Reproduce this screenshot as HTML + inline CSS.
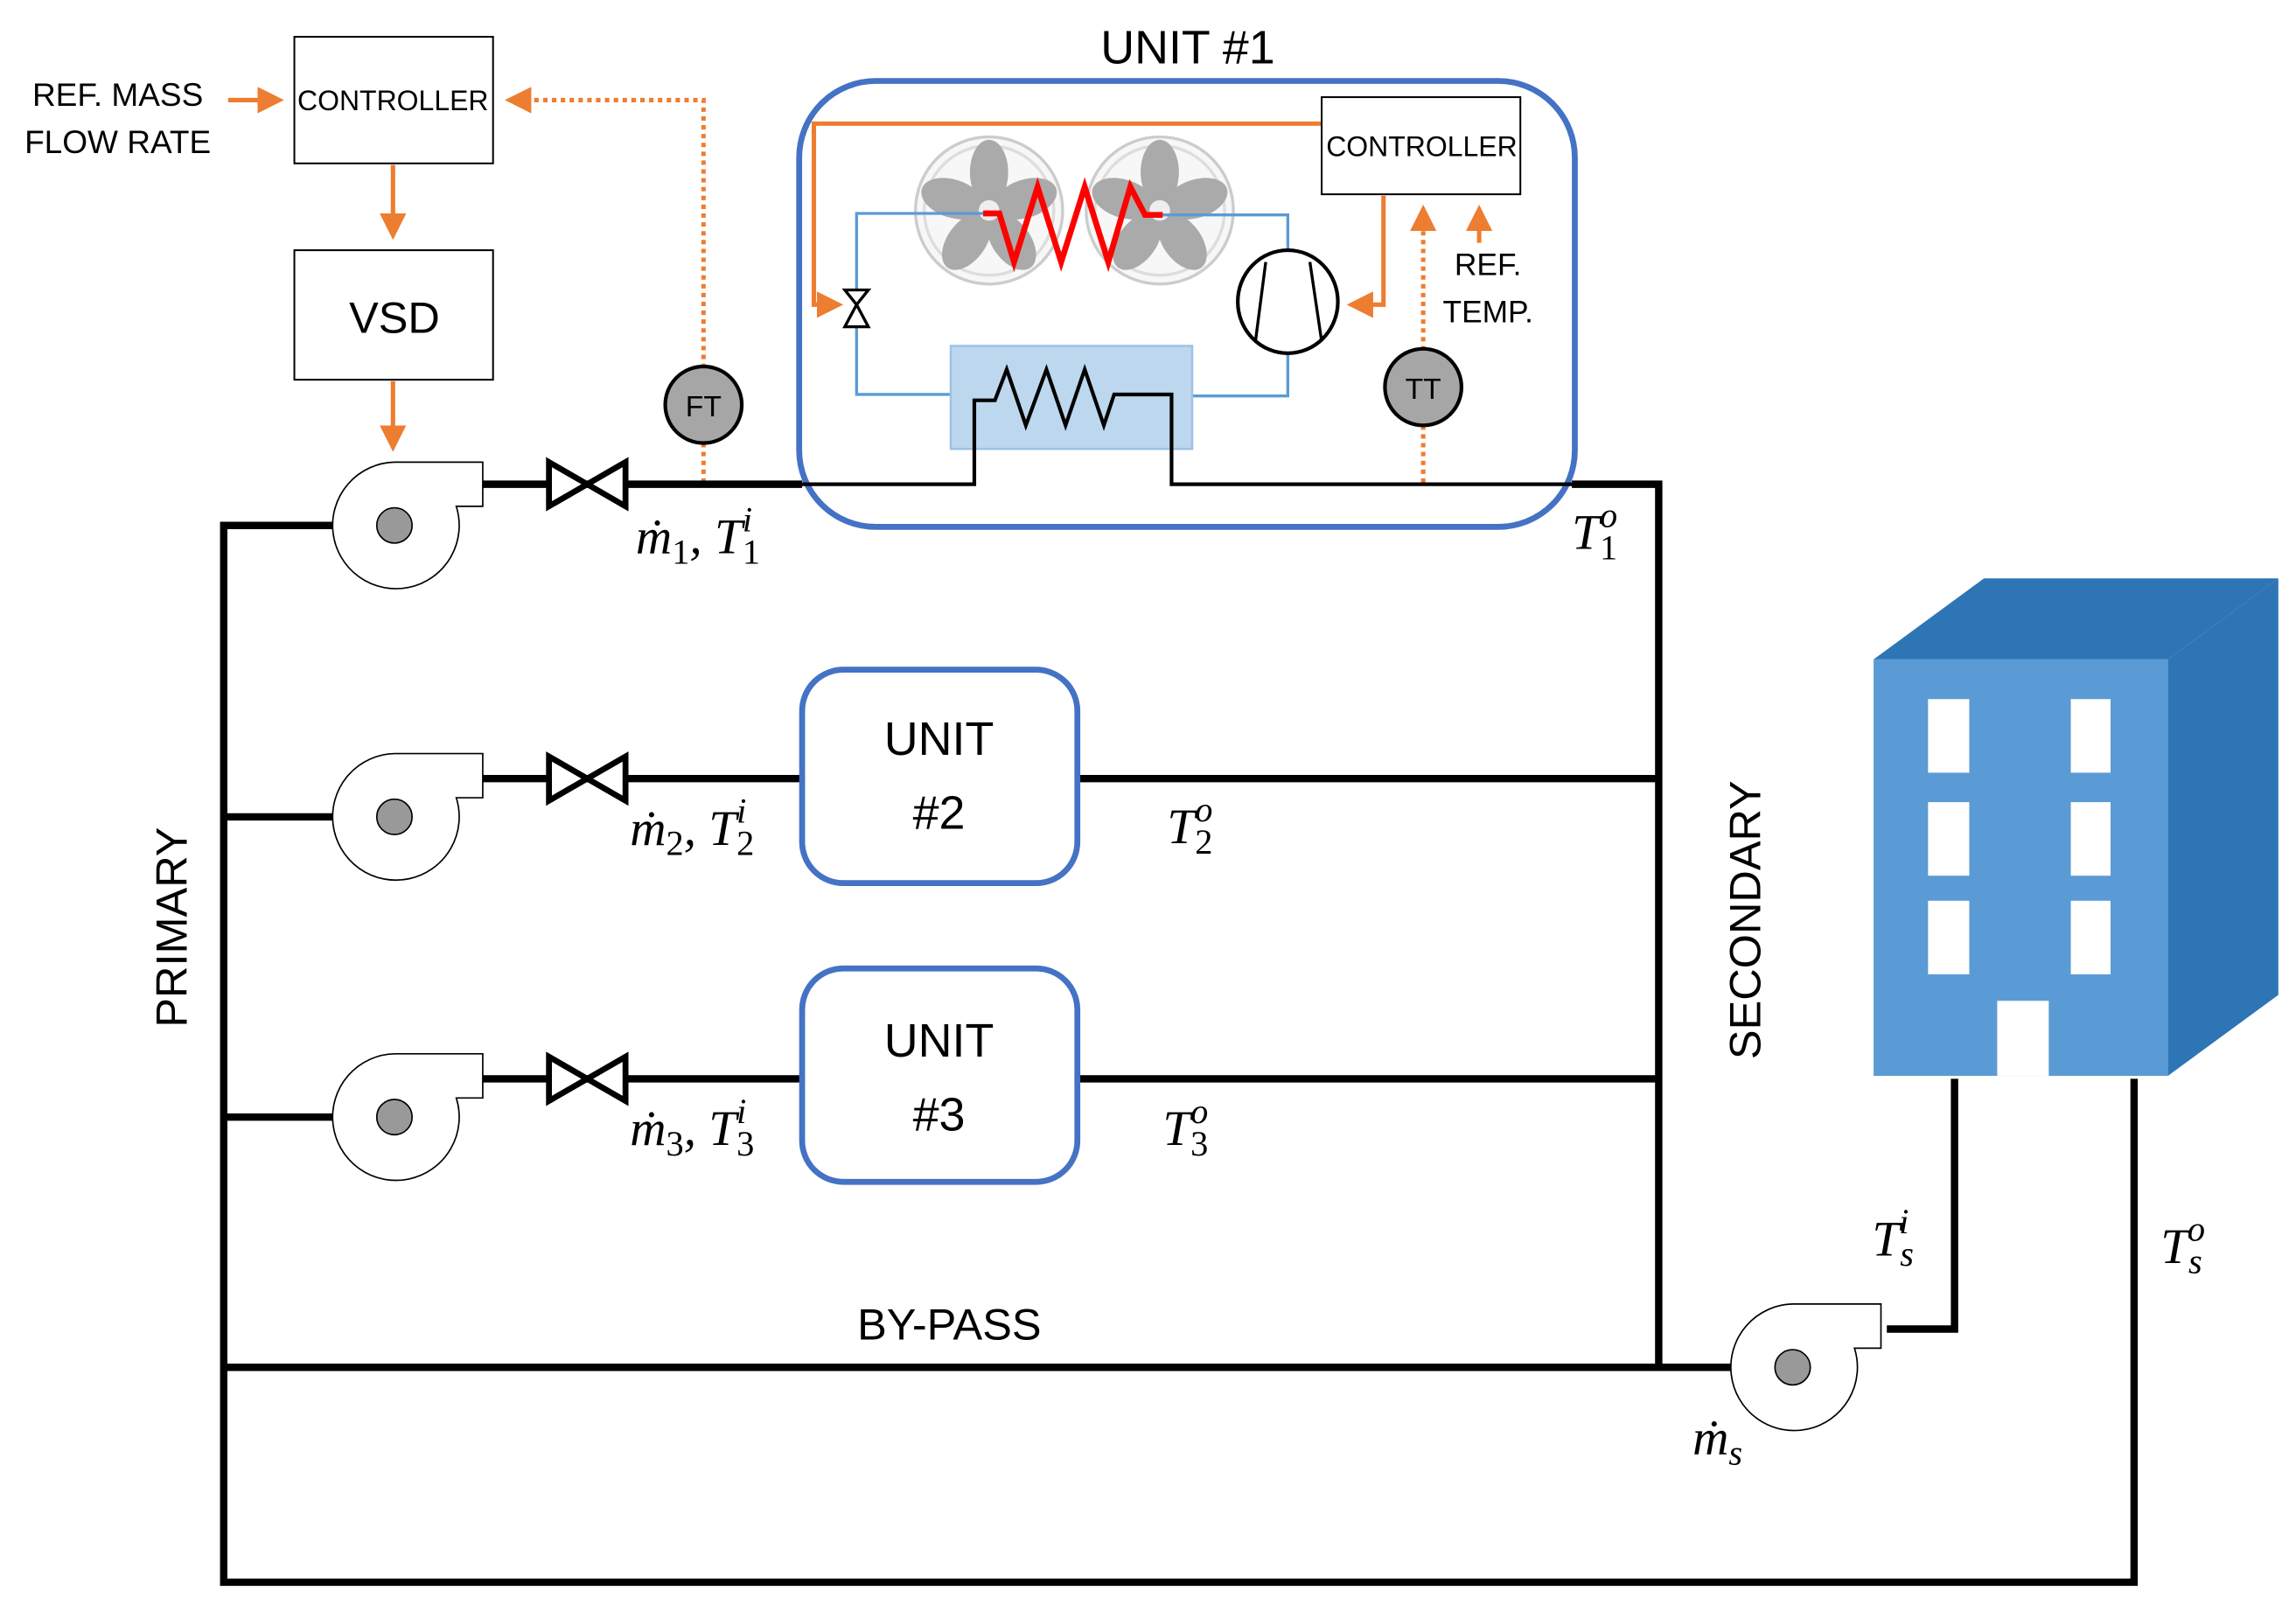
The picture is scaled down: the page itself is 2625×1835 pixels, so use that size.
<!DOCTYPE html>
<html><head><meta charset="utf-8"><style>html,body{margin:0;padding:0;background:#fff}svg{display:block}</style></head><body>
<svg width="2625" height="1835" viewBox="0 0 1560 1090.5" xmlns="http://www.w3.org/2000/svg" font-family="Liberation Sans, sans-serif">
<defs>
<marker id="ah" markerWidth="6" markerHeight="6" refX="5" refY="3" orient="auto" markerUnits="strokeWidth"><path d="M0,0 L6,3 L0,6 z" fill="#ED7D31"/></marker>
<g id="pump"><path d="M0,-43 L60,-43 L60,-13 L42,-13 A43,43 0 1 1 0,-43 Z" fill="#fff" stroke="#000" stroke-width="1"/><circle cx="0" cy="0" r="12" fill="#999" stroke="#000" stroke-width="1"/></g>
<g id="valve"><path d="M0,-15 L52,15 L52,-15 L0,15 Z" fill="#fff" stroke="#000" stroke-width="4" stroke-linejoin="miter"/></g>
<g id="fan"><circle r="50" fill="#f7f7f7" stroke="#ccc" stroke-width="2"/><circle r="44" fill="none" stroke="#ddd" stroke-width="2"/>
<g fill="#aaa"><ellipse cx="0" cy="-26" rx="13" ry="22"/><ellipse cx="0" cy="-26" rx="13" ry="22" transform="rotate(72)"/><ellipse cx="0" cy="-26" rx="13" ry="22" transform="rotate(144)"/><ellipse cx="0" cy="-26" rx="13" ry="22" transform="rotate(216)"/><ellipse cx="0" cy="-26" rx="13" ry="22" transform="rotate(288)"/></g><circle r="7" fill="#eee"/></g>
</defs>
<g font-size="22" text-anchor="middle"><text x="80" y="72">REF. MASS</text><text x="80" y="104">FLOW RATE</text></g>
<g stroke="#ED7D31" stroke-width="3" fill="none">
<line x1="155" y1="68" x2="190" y2="68" marker-end="url(#ah)"/>
<line x1="267" y1="112" x2="267" y2="160" marker-end="url(#ah)"/>
<line x1="267" y1="259" x2="267" y2="304" marker-end="url(#ah)"/>
<polyline points="478,328 478,68 346,68" stroke-dasharray="3,3" marker-end="url(#ah)"/>
<polyline points="898,84 553,84 553,207 570,207" marker-end="url(#ah)"/>
<polyline points="940,133 940,207 918,207" marker-end="url(#ah)"/>
<line x1="967" y1="328" x2="967" y2="142" stroke-dasharray="3,3" marker-end="url(#ah)"/>
<line x1="1005" y1="165" x2="1005" y2="142" marker-end="url(#ah)"/>
</g>
<rect x="200" y="25" width="135" height="86" fill="#fff" stroke="#000" stroke-width="1.2"/>
<text x="267" y="75" font-size="19" text-anchor="middle">CONTROLLER</text>
<rect x="200" y="170" width="135" height="88" fill="#fff" stroke="#000" stroke-width="1.2"/>
<text x="268" y="226" font-size="30" text-anchor="middle">VSD</text>
<g stroke="#000" stroke-width="5" fill="none">
<polyline points="268,357 152,357 152,1075 1450,1075 1450,733"/>
<line x1="152" y1="555" x2="268" y2="555"/>
<line x1="152" y1="759" x2="268" y2="759"/>
<line x1="328" y1="329" x2="545" y2="329"/>
<polyline points="1068,329 1127,329 1127,928"/>
<line x1="328" y1="529" x2="545" y2="529"/>
<line x1="732" y1="529" x2="1127" y2="529"/>
<line x1="328" y1="733" x2="545" y2="733"/>
<line x1="732" y1="733" x2="1127" y2="733"/>
<line x1="152" y1="929" x2="1218" y2="929"/>
<polyline points="1282,903 1328,903 1328,733"/>
</g>
<use href="#pump" x="268" y="357"/><use href="#pump" x="268" y="555"/><use href="#pump" x="268" y="759"/><use href="#pump" x="1218" y="929"/>
<use href="#valve" x="373" y="329"/><use href="#valve" x="373" y="529"/><use href="#valve" x="373" y="733"/>
<circle cx="478" cy="275" r="26" fill="#A6A6A6" stroke="#000" stroke-width="2.5"/><text x="478" y="283" font-size="20" text-anchor="middle">FT</text>
<rect x="543" y="55" width="527" height="303" rx="52" fill="none" stroke="#4472C4" stroke-width="4"/>
<text x="807" y="43" font-size="32" text-anchor="middle">UNIT #1</text>
<use href="#fan" x="672" y="143"/><use href="#fan" x="788" y="143"/>
<polyline points="582,197 582,145 668,145" fill="none" stroke="#5B9BD5" stroke-width="2"/>
<polyline points="790,146 875,146 875,170" fill="none" stroke="#5B9BD5" stroke-width="2"/>
<polyline points="582,222 582,268 646,268" fill="none" stroke="#5B9BD5" stroke-width="2"/>
<polyline points="810,269 875,269 875,240" fill="none" stroke="#5B9BD5" stroke-width="2"/>
<polyline points="668,145 679,145 689,178 705,127 721,178 737,127 753,178 768,127 778,146 790,146" fill="none" stroke="#f00" stroke-width="4"/>
<path d="M574,197 L590,197 L582,207 L590,222 L574,222 L582,207 Z" fill="#fff" stroke="#000" stroke-width="2"/>
<ellipse cx="875" cy="205" rx="34" ry="35" fill="#fff" stroke="#000" stroke-width="2.5"/>
<path d="M860,178 L853,232 M890,178 L898,232" stroke="#000" stroke-width="2"/>
<rect x="646" y="235" width="164" height="70" fill="#BDD7EE" stroke="#9DC3E6" stroke-width="1.5"/>
<polyline points="545,329 662,329 662,272 676,272 684,251 697,289 711,251 724,289 737,251 750,289 757,268 796,268 796,329 1070,329" fill="none" stroke="#000" stroke-width="2.5"/>
<rect x="898" y="66" width="135" height="66" fill="#fff" stroke="#000" stroke-width="1.2"/>
<text x="966" y="106" font-size="19" text-anchor="middle">CONTROLLER</text>
<circle cx="967" cy="263" r="26" fill="#A6A6A6" stroke="#000" stroke-width="2.5"/><text x="967" y="271" font-size="20" text-anchor="middle">TT</text>
<text x="1011" y="187" font-size="21" text-anchor="middle">REF.</text><text x="1011" y="219" font-size="21" text-anchor="middle">TEMP.</text>
<rect x="545" y="455" width="187" height="145" rx="28" fill="#fff" stroke="#4472C4" stroke-width="4"/>
<text x="638" y="513" font-size="32" text-anchor="middle">UNIT</text><text x="638" y="563" font-size="32" text-anchor="middle">#2</text>
<rect x="545" y="658" width="187" height="145" rx="28" fill="#fff" stroke="#4472C4" stroke-width="4"/>
<text x="638" y="718" font-size="32" text-anchor="middle">UNIT</text><text x="638" y="768" font-size="32" text-anchor="middle">#3</text>
<text x="645" y="910" font-size="30" text-anchor="middle">BY-PASS</text>
<text transform="translate(127,630) rotate(-90)" font-size="30" text-anchor="middle">PRIMARY</text>
<text transform="translate(1196,625) rotate(-90)" font-size="30" text-anchor="middle">SECONDARY</text>
<polygon points="1273,448 1348,393 1548,393 1473,448" fill="#2E75B6"/>
<polygon points="1473,448 1548,393 1548,676 1473,731" fill="#2E75B6"/>
<rect x="1273" y="448" width="200" height="283" fill="#5B9BD5"/>
<g fill="#fff"><rect x="1310" y="475" width="28" height="50"/><rect x="1310" y="545" width="28" height="50"/><rect x="1310" y="612" width="28" height="50"/><rect x="1407" y="475" width="27" height="50"/><rect x="1407" y="545" width="27" height="50"/><rect x="1407" y="612" width="27" height="50"/><rect x="1357" y="680" width="35" height="51"/></g>
<g font-family="Liberation Serif, serif" font-style="italic" font-size="34">
<text x="432" y="376">ṁ<tspan font-size="24" font-style="normal" dy="7">1</tspan><tspan dy="-7">, T</tspan><tspan font-size="24" font-style="normal" dy="7">1</tspan><tspan font-size="24" dx="-12" dy="-22">i</tspan></text>
<text x="1068" y="373">T<tspan font-size="24" font-style="normal" dy="7">1</tspan><tspan font-size="24" dx="-12" dy="-22">o</tspan></text>
<text x="428" y="574">ṁ<tspan font-size="24" font-style="normal" dy="7">2</tspan><tspan dy="-7">, T</tspan><tspan font-size="24" font-style="normal" dy="7">2</tspan><tspan font-size="24" dx="-12" dy="-22">i</tspan></text>
<text x="793" y="573">T<tspan font-size="24" font-style="normal" dy="7">2</tspan><tspan font-size="24" dx="-12" dy="-22">o</tspan></text>
<text x="428" y="778">ṁ<tspan font-size="24" font-style="normal" dy="7">3</tspan><tspan dy="-7">, T</tspan><tspan font-size="24" font-style="normal" dy="7">3</tspan><tspan font-size="24" dx="-12" dy="-22">i</tspan></text>
<text x="790" y="778">T<tspan font-size="24" font-style="normal" dy="7">3</tspan><tspan font-size="24" dx="-12" dy="-22">o</tspan></text>
<text x="1272" y="853">T<tspan font-size="24" dy="7">s</tspan><tspan font-size="24" dx="-10" dy="-22">i</tspan></text>
<text x="1468" y="858">T<tspan font-size="24" dy="7">s</tspan><tspan font-size="24" dx="-10" dy="-22">o</tspan></text>
<text x="1150" y="988">ṁ<tspan font-size="24" dy="7">s</tspan></text>
</g>
</svg>
</body></html>
